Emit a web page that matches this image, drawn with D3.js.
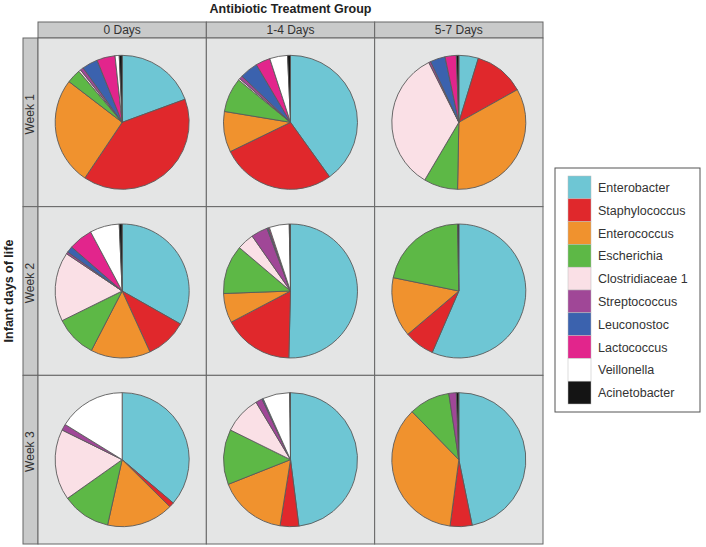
<!DOCTYPE html>
<html><head><meta charset="utf-8">
<script src="https://cdn.jsdelivr.net/npm/d3@7/dist/d3.min.js"></script>
<style>body{margin:0;background:#fff;} text{font-family:"Liberation Sans",Arial,sans-serif;}</style>
</head><body>
<svg id="chart" width="706" height="547"></svg>
<script>
const genera = ["Enterobacter","Staphylococcus","Enterococcus","Escherichia","Clostridiaceae 1","Streptococcus","Leuconostoc","Lactococcus","Veillonella","Acinetobacter"];
const colors = ["#6EC6D4","#E0282C","#F0922E","#5DB846","#FAE0E6","#A04797","#3B62AE","#E2258C","#FFFFFF","#141414"];
const groups = ["0 Days","1-4 Days","5-7 Days"];
const weeks = ["Week 1","Week 2","Week 3"];
// relative abundance (%) per genus, in order of genera
const week1_0 = [19.4,40.0,26.0,3.4,0.5,0.8,3.8,4.4,1.0,0.7];
const week1_14 = [40.1,27.7,9.8,8.3,0.4,0.8,4.4,3.5,4.3,0.7];
const week1_57 = [4.7,12.2,33.4,8.2,34.1,0.5,3.6,2.7,0.0,0.6];
const week2_0 = [33.2,10.0,14.4,10.1,16.7,0.5,1.5,5.8,7.1,0.7];
const week2_14 = [50.4,16.9,7.1,11.8,4.1,4.0,0.3,0.3,4.8,0.3];
const week2_57 = [56.5,7.3,14.4,21.5,0,0,0,0,0,0.3];
const week3_0 = [36.2,1.2,16.1,11.7,17.1,1.5,0,0,16.2,0];
const week3_14 = [48.0,4.5,16.5,13.3,9.1,1.6,0.3,0,6.5,0.2];
const week3_57 = [46.8,5.3,35.6,9.9,0,1.8,0,0,0,0.6];
const cells = [[week1_0,week1_14,week1_57],[week2_0,week2_14,week2_57],[week3_0,week3_14,week3_57]];

const svg = d3.select("#chart");
const x0 = 38, x1 = 543, y0 = 38, y1 = 544;
const xs = d3.scaleBand().domain(groups).range([x0,x1]);
const ys = d3.scaleBand().domain(weeks).range([y0,y1]);
const color = d3.scaleOrdinal().domain(genera).range(colors);

// title
svg.append("text").attr("x",(x0+x1)/2).attr("y",13).attr("text-anchor","middle")
  .attr("font-size",12.5).attr("font-weight","bold").attr("fill","#222").text("Antibiotic Treatment Group");
svg.append("text").attr("transform",`translate(13,${(y0+y1)/2}) rotate(-90)`).attr("text-anchor","middle")
  .attr("font-size",12.5).attr("font-weight","bold").attr("fill","#222").text("Infant days of life");

// top strips
groups.forEach(g=>{
  svg.append("rect").attr("x",xs(g)).attr("y",22).attr("width",xs.bandwidth()).attr("height",y0-22)
    .attr("fill","#C9CACA").attr("stroke","#666").attr("stroke-width",1);
  svg.append("text").attr("x",xs(g)+xs.bandwidth()/2).attr("y",34).attr("text-anchor","middle")
    .attr("font-size",12).attr("fill","#333").text(g);
});
// left strips
weeks.forEach(w=>{
  svg.append("rect").attr("x",23).attr("y",ys(w)).attr("width",x0-23).attr("height",ys.bandwidth())
    .attr("fill","#C9CACA").attr("stroke","#666").attr("stroke-width",1);
  svg.append("text").attr("transform",`translate(34,${ys(w)+ys.bandwidth()/2-8}) rotate(-90)`)
    .attr("text-anchor","middle").attr("font-size",12).attr("fill","#333").text(w);
});

const pie = d3.pie().sort(null).value(d=>d.v);
const arc = d3.arc().innerRadius(0).outerRadius(67);
weeks.forEach((w,ri)=>{
  groups.forEach((g,ci)=>{
    svg.append("rect").attr("x",xs(g)).attr("y",ys(w)).attr("width",xs.bandwidth()).attr("height",ys.bandwidth())
      .attr("fill","#E4E5E5").attr("stroke","#666").attr("stroke-width",1);
    const data = genera.map((n,i)=>({n, v: cells[ri][ci][i]}));
    const gp = svg.append("g").attr("transform",`translate(${xs(g)+xs.bandwidth()/2},${ys(w)+ys.bandwidth()/2})`);
    gp.selectAll("path").data(pie(data).filter(d=>d.data.v>0)).join("path")
      .attr("d",arc).attr("fill",d=>color(d.data.n)).attr("stroke","#5a5a5a").attr("stroke-width",0.9);
  });
});

// legend
const lx = 555, ly = 168;
svg.append("rect").attr("x",lx).attr("y",ly).attr("width",145).attr("height",244)
  .attr("fill","#fff").attr("stroke","#555").attr("stroke-width",1);
const ks = d3.scaleBand().domain(genera).range([ly+8, ly+236]);
genera.forEach(n=>{
  svg.append("rect").attr("x",lx+13).attr("y",ks(n)).attr("width",23).attr("height",ks.bandwidth())
    .attr("fill",color(n)).attr("stroke","#bbb").attr("stroke-width",0.5);
  svg.append("text").attr("x",lx+43).attr("y",ks(n)+ks.bandwidth()/2+4.5).attr("font-size",12.5)
    .attr("fill","#333").text(n);
});
</script>
</body></html>
